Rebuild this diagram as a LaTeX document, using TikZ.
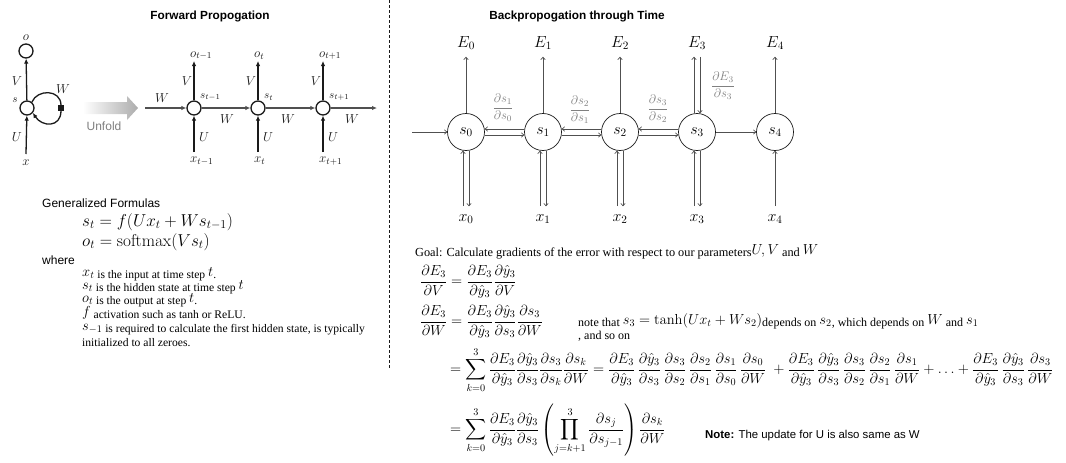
\RequirePackage{fix-cm}
\documentclass[tikz,border=0pt]{standalone}
\usepackage{amsmath,amssymb}
\usepackage[no-math]{fontspec}
\setmainfont{Liberation Serif}
\setsansfont{Liberation Sans}
\usepackage{tikz}
\usetikzlibrary{arrows.meta}
\definecolor{ink}{HTML}{1A1A1A}
\definecolor{wire}{HTML}{505050}
\definecolor{soft}{HTML}{808080}
\newcommand{\txtmath}[1]{\raisebox{2pt}{\fontsize{14.5}{15}\selectfont$#1$}}
\tikzset{
  blackarrow/.style={draw=ink, line width=1.3pt, -{Latex[length=5pt,width=4.5pt]}},
  greyarrow/.style={draw=wire, line width=1.1pt, -{Latex[length=5pt,width=4.5pt]}},
  thinarrow/.style={draw=wire, line width=0.7pt, -{To[length=3pt,width=5pt]}},
  rnncirc/.style={circle, draw=ink, line width=1.3pt, minimum size=14pt, inner sep=0pt},
  bpcirc/.style={circle, draw=ink, line width=0.7pt, minimum size=37pt, inner sep=0pt, font=\fontsize{16}{16}\selectfont},
  rnnlab/.style={text=ink, font=\fontsize{13}{13}\selectfont, inner sep=1pt},
  sublab/.style={text=ink, font=\fontsize{11}{11}\selectfont, inner sep=1pt},
  bplab/.style={font=\fontsize{16}{16}\selectfont, inner sep=1pt},
  dlab/.style={text=soft, font=\fontsize{12.5}{13}\selectfont, inner sep=0pt},
  headline/.style={font=\sffamily\bfseries\fontsize{11.8}{12}\selectfont},
  sanslab/.style={font=\sffamily\fontsize{12}{12}\selectfont, anchor=west, inner sep=0pt},
  serlab/.style={font=\fontsize{12.3}{13}\selectfont, anchor=base west, inner sep=0pt},
  leftlab/.style={font=\fontsize{11.6}{13}\selectfont, anchor=base west, inner sep=0pt},
  eqn/.style={font=\fontsize{14.6}{15}\selectfont, anchor=west, inner sep=0pt},
  bigeqn/.style={font=\fontsize{17.2}{18}\selectfont, anchor=west, inner sep=0pt},
}

\begin{document}
\begin{tikzpicture}[x=1pt,y=-1pt]
\useasboundingbox (0,0) rectangle (1066,463);
\node[headline] (fwdtitle) at (210,16) {Forward Propogation};
\node[headline] (bpttitle) at (577,16) {Backpropogation through Time};
\draw[ink, line width=0.7pt, dash pattern=on 3pt off 2pt] (389,0) -- (389,368);

% folded rnn
\node[rnncirc] (o) at (26,51) {};
\node[rnncirc] (s) at (27,108) {};
\node[rnnlab] (olab) at (26,38) {$o$};
\node[sublab] (slab) at (15,100) {$s$};
\node[rnnlab] (xlab) at (26,163) {$x$};
\node[rnnlab] (vlab) at (17,81) {$V$};
\node[rnnlab] (ulab) at (17,137) {$U$};
\node[rnnlab] (wlab) at (63,89) {$W$};
\node[draw=ink, fill=ink, minimum size=5pt, inner sep=0pt] (wsq) at (61,108) {};
\draw[blackarrow] (s) -- (o);
\draw[blackarrow] ([yshift=5pt]xlab.north) -- (s);
\draw[ink, line width=1.3pt] (s.50) .. controls (37,89) and (61,89) .. (wsq.north);
\draw[blackarrow] (wsq.south) .. controls (61,128) and (42,127) .. (s.-40);

% unfold arrow
\shade[left color=white, right color=gray!65] (83,102) -- (127,102) -- (127,96) -- (138,108) -- (127,120) -- (127,114) -- (83,114) -- cycle;
\node[sanslab, text=gray, anchor=center] (unfold) at (104,126) {Unfold};

% unfolded rnn
\node[rnncirc] (h1) at (194,108) {};
\node[rnncirc] (h2) at (258,108) {};
\node[rnncirc] (h3) at (323,108) {};
\coordinate (win) at (145,108);
\coordinate (wout) at (377,108);
\draw[greyarrow] (win) -- (h1);
\draw[greyarrow] (h1) -- (h2);
\draw[greyarrow] (h2) -- (h3);
\draw[greyarrow] (h3) -- (wout);
\node[rnnlab] (w0) at (162,98) {$W$};
\node[rnnlab] (w1) at (227,119) {$W$};
\node[rnnlab] (w2) at (288,119) {$W$};
\node[rnnlab] (w3) at (352,119) {$W$};
\node[rnnlab, anchor=south west] (o1) at (189,61) {$o_{t-1}$};
\node[rnnlab, anchor=south west] (o2) at (253,61) {$o_t$};
\node[rnnlab, anchor=south west] (o3) at (318,61) {$o_{t+1}$};
\node[sublab, anchor=west] (s1lab) at (199,97) {$s_{t-1}$};
\node[sublab, anchor=west] (s2lab) at (263,97) {$s_t$};
\node[sublab, anchor=west] (s3lab) at (328,97) {$s_{t+1}$};
\node[rnnlab, anchor=north west] (x1) at (189,156) {$x_{t-1}$};
\node[rnnlab, anchor=north west] (x2) at (253,156) {$x_t$};
\node[rnnlab, anchor=north west] (x3) at (318,156) {$x_{t+1}$};
\draw[blackarrow] (h1) -- (h1 |- o1.south);
\draw[blackarrow] (h2) -- (h2 |- o2.south);
\draw[blackarrow] (h3) -- (h3 |- o3.south);
\draw[blackarrow, shorten <=4pt] (h1 |- x1.north) -- (h1);
\draw[blackarrow, shorten <=4pt] (h2 |- x2.north) -- (h2);
\draw[blackarrow, shorten <=4pt] (h3 |- x3.north) -- (h3);
\node[rnnlab] (v1) at (187,81) {$V$};
\node[rnnlab] (v2) at (251,81) {$V$};
\node[rnnlab] (v3) at (316,81) {$V$};
\node[rnnlab] (u1) at (204,137) {$U$};
\node[rnnlab] (u2) at (268,137) {$U$};
\node[rnnlab] (u3) at (333,137) {$U$};

% generalized formulas
\node[sanslab] (gen) at (42,203) {Generalized Formulas};
\node[bigeqn] (eqs) at (82,222) {$s_t = f(Ux_t + Ws_{t-1})$};
\node[bigeqn] (eqo) at (82,242) {$o_t = \mathrm{softmax}(Vs_t)$};
\node[sanslab] (where) at (42,260) {where};
\node[leftlab] (l1) at (82,278) {\txtmath{x_t} is the input at time step \txtmath{t}.};
\node[leftlab] (l2) at (82,291) {\txtmath{s_t} is the hidden state at time step \txtmath{t}};
\node[leftlab] (l3) at (82,304) {\txtmath{o_t} is the output at step \txtmath{t}.};
\node[leftlab] (l4) at (82,318) {\txtmath{f} activation such as tanh or ReLU.};
\node[leftlab] (l5) at (82,332) {\txtmath{s_{-1}} is required to calculate the first hidden state, is typically};
\node[leftlab] (l6) at (82,346) {initialized to all zeroes.};

% unrolled chain
\foreach \i/\px in {0/466,1/543,2/620,3/697,4/775} {
  \node[bpcirc] (s\i) at (\px,132) {$s_\i$};
  \node[bplab] (E\i) at (\px,43) {$E_\i$};
  \node[bplab] (x\i) at (\px,219) {$x_\i$};
}
\coordinate (sin) at (412,132);
\draw[thinarrow] (sin) -- (s0);
\foreach \i in {0,1,2,4} \draw[thinarrow, shorten >=6pt] (s\i) -- (E\i);
\draw[thinarrow, shorten >=6pt] ([xshift=-3pt]s3.north) -- ([xshift=-3pt]E3.south);
\draw[thinarrow, shorten <=6pt] ([xshift=3pt]E3.south) -- ([xshift=3pt]s3.north);
\foreach \i in {0,...,3} {
  \draw[thinarrow, shorten <=7pt] ([xshift=-3pt]x\i.north) -- ([xshift=-3pt]s\i.south);
  \draw[thinarrow, shorten >=7pt] ([xshift=3pt]s\i.south) -- ([xshift=3pt]x\i.north);
}
\draw[thinarrow, shorten <=7pt] (x4) -- (s4);
\foreach \i/\j in {0/1,1/2,2/3} {
  \draw[thinarrow] ([yshift=-3pt]s\i.east) -- ([yshift=-3pt]s\j.west);
  \draw[thinarrow] ([yshift=3pt]s\j.west) -- ([yshift=3pt]s\i.east);
}
\draw[thinarrow] (s3) -- (s4);
\node[dlab] (d10) at (503,108) {$\displaystyle\frac{\partial s_1}{\partial s_0}$};
\node[dlab] (d21) at (580,110) {$\displaystyle\frac{\partial s_2}{\partial s_1}$};
\node[dlab] (d32) at (658,109) {$\displaystyle\frac{\partial s_3}{\partial s_2}$};
\node[dlab] (de3) at (723,86) {$\displaystyle\frac{\partial E_3}{\partial s_3}$};

% gradients
\node[serlab] (goal) at (415,256) {Goal: Calculate gradients of the error with respect to our parameters\txtmath{U, V} and \txtmath{W}};
\node[eqn] (eq1) at (420,282) {$\displaystyle\frac{\partial E_3}{\partial V} = \frac{\partial E_3}{\partial \hat{y}_3}\frac{\partial \hat{y}_3}{\partial V}$};
\node[eqn] (eq2) at (420,322) {$\displaystyle\frac{\partial E_3}{\partial W} = \frac{\partial E_3}{\partial \hat{y}_3}\frac{\partial \hat{y}_3}{\partial s_3}\frac{\partial s_3}{\partial W}$};
\node[serlab, font=\fontsize{12}{13}\selectfont] (note) at (578,326) {note that \txtmath{s_3 = \tanh(Ux_t + Ws_2)}depends on \txtmath{s_2}, which depends on \txtmath{W} and \txtmath{s_1}};
\node[serlab, font=\fontsize{12}{13}\selectfont] (soon) at (578,339) {, and so on};
\node[eqn] (eq3) at (450,370) {$\displaystyle = \sum_{k=0}^{3} \frac{\partial E_3}{\partial \hat{y}_3}\frac{\partial \hat{y}_3}{\partial s_3}\frac{\partial s_3}{\partial s_k}\frac{\partial s_k}{\partial W}
  = \frac{\partial E_3}{\partial \hat{y}_3}\,\frac{\partial \hat{y}_3}{\partial s_3}\,\frac{\partial s_3}{\partial s_2}\,\frac{\partial s_2}{\partial s_1}\,\frac{\partial s_1}{\partial s_0}\,\frac{\partial s_0}{\partial W}
  \; + \frac{\partial E_3}{\partial \hat{y}_3}\,\frac{\partial \hat{y}_3}{\partial s_3}\,\frac{\partial s_3}{\partial s_2}\,\frac{\partial s_2}{\partial s_1}\,\frac{\partial s_1}{\partial W}
  + \ldots + \frac{\partial E_3}{\partial \hat{y}_3}\,\frac{\partial \hat{y}_3}{\partial s_3}\,\frac{\partial s_3}{\partial W}$};
\node[eqn] (eq4) at (450,430) {$\displaystyle = \sum_{k=0}^{3} \frac{\partial E_3}{\partial \hat{y}_3}\frac{\partial \hat{y}_3}{\partial s_3}\left(\prod_{j=k+1}^{3}\frac{\partial s_j}{\partial s_{j-1}}\right)\frac{\partial s_k}{\partial W}$};
\node[sanslab, font=\sffamily\fontsize{11.4}{12}\selectfont] (upd) at (705,436) {\textbf{Note:} The update for U is also same as W};
\end{tikzpicture}
\end{document}
